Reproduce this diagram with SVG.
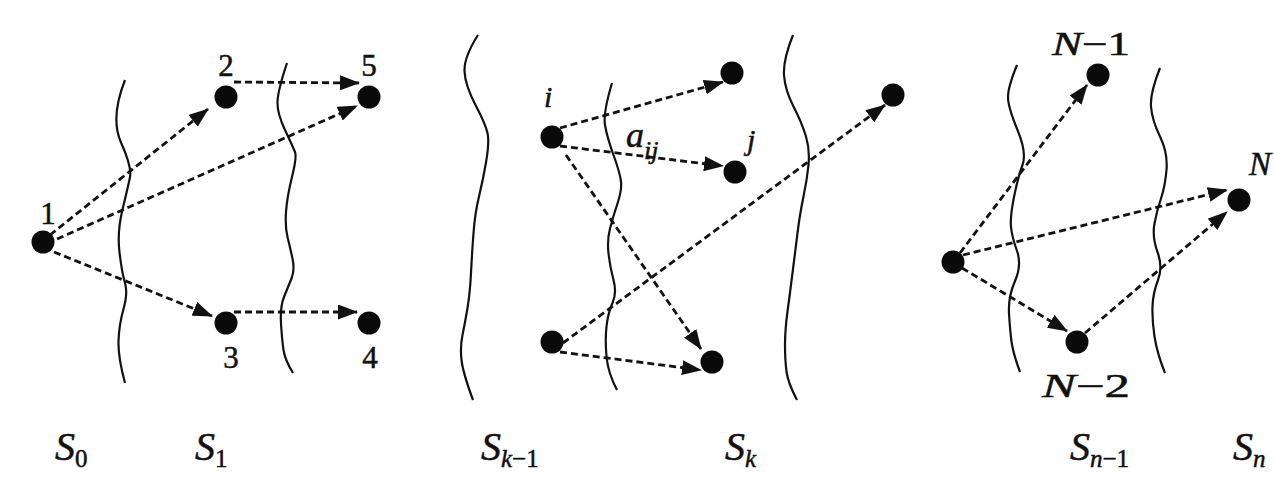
<svg xmlns="http://www.w3.org/2000/svg" width="1274" height="483" viewBox="0 0 1274 483" font-family="'Liberation Serif', 'DejaVu Serif', serif">
<style>
.wave{fill:none;stroke:#111;stroke-width:2.2}
.edge{fill:none;stroke:#111;stroke-width:2.8;stroke-dasharray:7 4}
.node{fill:#0a0a0a}
text{fill:#111;stroke:#111;stroke-width:0.5}
.num{font-size:31px;text-anchor:middle}
.it{font-style:italic}
.stage{font-style:italic;font-size:40px}
.sub{font-size:25px}
.up{font-style:normal}
</style>
<defs>
<marker id="arr" markerUnits="userSpaceOnUse" viewBox="0 0 20 15" refX="19" refY="7.5" markerWidth="20" markerHeight="15" orient="auto">
<path d="M0,0 L20,7.5 L0,15 z" fill="#111"/>
</marker>
</defs>
<rect width="1274" height="483" fill="#fff"/>
<g id="boundaries">
<path class="wave" d="M125,80 Q110,118 121,142.5 Q132,167 130,177 Q128,187 122.5,209.5 Q117,232 119.5,252.5 Q122,273 125,283 Q128,293 123.5,309 Q119,325 118.5,341 Q118,357 125,383"/>
<path class="wave" d="M287,63 Q278,90 277.5,101.5 Q277,113 285,130 Q293,147 295,152 Q297,157 292,177 Q287,197 286,212 Q285,227 287.5,237 Q290,247 292.5,258.5 Q295,270 291.5,278.5 Q288,287 284,297 Q280,307 281,323.5 Q282,340 283.5,350 Q285,360 293,373"/>
<path class="wave" d="M478,35 Q464,57 464.5,71 Q465,85 476,106 Q487,127 488,136 Q489,145 486,162.5 Q483,180 479,196.5 Q475,213 473.5,233 Q472,253 471,273 Q470,293 467.5,308 Q465,323 462.5,335 Q460,347 461.5,360 Q463,373 473,400"/>
<path class="wave" d="M612,83 Q603,113 605,125 Q607,137 613.5,155 Q620,173 621,181.5 Q622,190 617.5,203.5 Q613,217 610,228.5 Q607,240 608.5,253.5 Q610,267 613.5,280 Q617,293 612.5,303 Q608,313 606.5,326.5 Q605,340 606.5,356.5 Q608,373 617,390"/>
<path class="wave" d="M793,35 Q783,60 784,75 Q785,90 793.5,106.5 Q802,123 806,136.5 Q810,150 808.5,165 Q807,180 803.5,196.5 Q800,213 797.5,233 Q795,253 792.5,273 Q790,293 787.5,311.5 Q785,330 785,345 Q785,360 786.5,371.5 Q788,383 797,400"/>
<path class="wave" d="M1017,65 Q1008,87 1008,97 Q1008,107 1017.5,130 Q1027,153 1022.5,165 Q1018,177 1014,197 Q1010,217 1011,227 Q1012,237 1017,251 Q1022,265 1015,281 Q1008,297 1009,313.5 Q1010,330 1011.5,341.5 Q1013,353 1020,372"/>
<path class="wave" d="M1160,68 Q1150,93 1151,106.5 Q1152,120 1160,136.5 Q1168,153 1166.5,170 Q1165,187 1161,198.5 Q1157,210 1154.5,223.5 Q1152,237 1157.5,252 Q1163,267 1158,280 Q1153,293 1152.5,306.5 Q1152,320 1154.5,336.5 Q1157,353 1165,373"/>
</g>
<g id="connectors">
<line class="edge" x1="50" y1="235" x2="208" y2="109" marker-end="url(#arr)"/>
<line class="edge" x1="57" y1="239" x2="357" y2="106" marker-end="url(#arr)"/>
<line class="edge" x1="54" y1="252" x2="212" y2="316" marker-end="url(#arr)"/>
<line class="edge" x1="234" y1="82" x2="359" y2="83" marker-end="url(#arr)"/>
<line class="edge" x1="234" y1="312" x2="357" y2="312" marker-end="url(#arr)"/>
<line class="edge" x1="560" y1="128" x2="723" y2="82" marker-end="url(#arr)"/>
<line class="edge" x1="560" y1="146" x2="723" y2="166" marker-end="url(#arr)"/>
<line class="edge" x1="566" y1="155" x2="701" y2="349" marker-end="url(#arr)"/>
<line class="edge" x1="563" y1="343" x2="885" y2="105" marker-end="url(#arr)"/>
<line class="edge" x1="560" y1="352" x2="701" y2="370" marker-end="url(#arr)"/>
<line class="edge" x1="960" y1="253" x2="1087" y2="85" marker-end="url(#arr)"/>
<line class="edge" x1="963" y1="255" x2="1227" y2="190" marker-end="url(#arr)"/>
<line class="edge" x1="962" y1="268" x2="1067" y2="331" marker-end="url(#arr)"/>
<line class="edge" x1="1085" y1="333" x2="1227" y2="212" marker-end="url(#arr)"/>
</g>
<g id="n1"><circle class="node" cx="43" cy="242" r="11.5"/><text class="num" x="48" y="224">1</text></g>
<g id="n2"><circle class="node" cx="226" cy="97" r="11.5"/><text class="num" x="226" y="76">2</text></g>
<g id="n5"><circle class="node" cx="369" cy="97" r="11.5"/><text class="num" x="369" y="76">5</text></g>
<g id="n3"><circle class="node" cx="226" cy="323" r="11.5"/><text class="num" x="231" y="368">3</text></g>
<g id="n4"><circle class="node" cx="369" cy="323" r="11.5"/><text class="num" x="370" y="368">4</text></g>
<g id="ni"><circle class="node" cx="552" cy="137" r="11.5"/><text class="it" x="544" y="107" font-size="30">i</text></g>
<g id="ntop"><circle class="node" cx="732" cy="73" r="11.5"/></g>
<g id="nj"><circle class="node" cx="735" cy="172" r="11.5"/><text class="it" x="747" y="150" font-size="30">j</text></g>
<g id="nfar"><circle class="node" cx="893" cy="95" r="11.5"/></g>
<g id="nbl"><circle class="node" cx="552" cy="342" r="11.5"/></g>
<g id="nbr"><circle class="node" cx="712" cy="362" r="11.5"/></g>
<g id="aij-label"><text class="it" x="626" y="147" font-size="36">a<tspan font-size="26" dy="12">ij</tspan></text></g>
<g id="nleft"><circle class="node" cx="953" cy="262" r="11.5"/></g>
<g id="nN1"><circle class="node" cx="1098" cy="75" r="11.5"/><text class="it" x="1052" y="55" font-size="33" textLength="78" lengthAdjust="spacingAndGlyphs">N<tspan class="up">−1</tspan></text></g>
<g id="nN"><circle class="node" cx="1239" cy="200" r="11.5"/><text class="it" x="1249" y="175" font-size="33">N</text></g>
<g id="nN2"><circle class="node" cx="1077" cy="342" r="11.5"/><text class="it" x="1042" y="397" font-size="33" textLength="88" lengthAdjust="spacingAndGlyphs">N<tspan class="up">−2</tspan></text></g>
<g id="stages">
<text class="stage" x="55" y="460">S<tspan class="sub up" dy="7">0</tspan></text>
<text class="stage" x="195" y="460">S<tspan class="sub up" dy="7">1</tspan></text>
<text class="stage" x="481" y="460">S<tspan class="sub" dy="7">k</tspan><tspan class="sub up">−1</tspan></text>
<text class="stage" x="725" y="460">S<tspan class="sub" dy="7">k</tspan></text>
<text class="stage" x="1070" y="460">S<tspan class="sub" dy="7">n</tspan><tspan class="sub up">−1</tspan></text>
<text class="stage" x="1233" y="460">S<tspan class="sub" dy="7">n</tspan></text>
</g>
</svg>
